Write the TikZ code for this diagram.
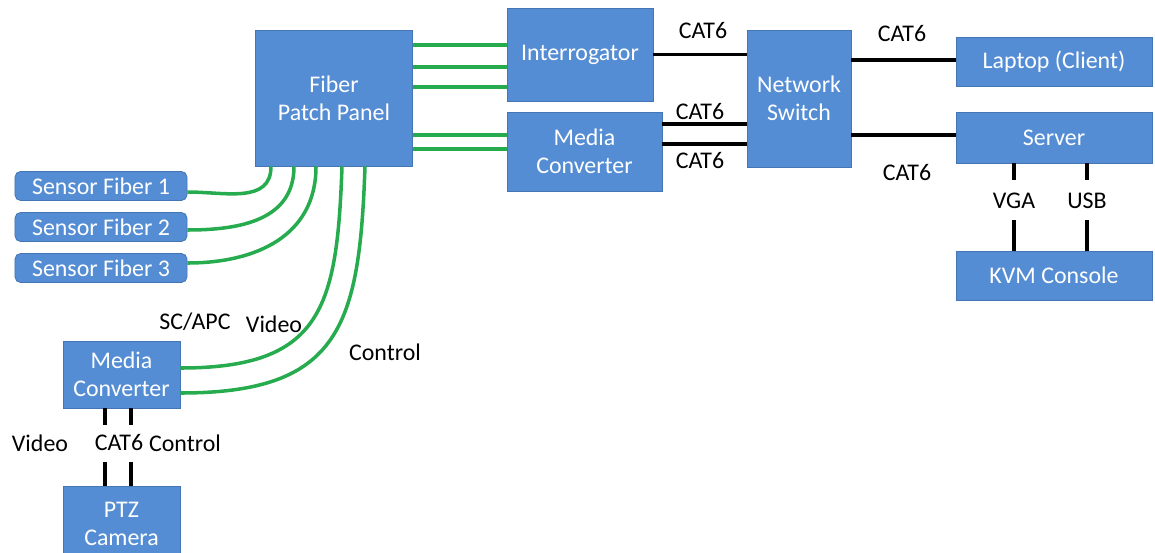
\documentclass[tikz,border=0pt]{standalone}
\usepackage{fontspec}
\setmainfont{Carlito}
\definecolor{boxblue}{RGB}{84,141,212}
\definecolor{boxedge}{RGB}{68,118,180}
\definecolor{fibergreen}{RGB}{38,172,78}

\begin{document}
\begin{tikzpicture}[x=0.025cm,y=-0.025cm,
  font=\fontsize{17}{20}\selectfont,
  box/.style={draw=boxedge,fill=boxblue,text=white,align=center,line width=0.6pt,inner sep=2pt},
  sensor/.style={box,rounded corners=4pt,minimum width=4.3cm,minimum height=0.725cm},
  fiber/.style={fibergreen,line width=2.5pt},
  cat/.style={black,line width=2.2pt},
  lbl/.style={text=black,inner sep=1pt}]
\useasboundingbox (0,0) rectangle (1155,552);
% boxes
\node[box,minimum width=3.925cm,minimum height=3.4cm] (fpp) at (334,98) {Fiber\\Patch Panel};
\node[sensor] (sf1) at (101,186) {Sensor Fiber 1};
\node[sensor] (sf2) at (101,227) {Sensor Fiber 2};
\node[sensor] (sf3) at (101,268) {Sensor Fiber 3};
\node[box,minimum width=3.65cm,minimum height=2.325cm] (intg) at (580,54.5) {Interrogator};
\node[box,minimum width=3.875cm,minimum height=1.975cm] (mc1) at (584.5,151.5) {Media\\Converter};
\node[box,minimum width=2.6cm,minimum height=3.425cm] (sw) at (799,98.5) {Network\\Switch};
\node[box,minimum width=4.9cm,minimum height=1.225cm] (lap) at (1054,61.5) {Laptop (Client)};
\node[box,minimum width=4.9cm,minimum height=1.275cm] (srv) at (1054,137.5) {Server};
\node[box,minimum width=4.9cm,minimum height=1.225cm] (kvm) at (1054,275.5) {KVM Console};
\node[box,minimum width=2.925cm,minimum height=1.675cm] (mc2) at (121.5,374.5) {Media\\Converter};
\node[box,minimum width=2.925cm,minimum height=1.9cm] (ptz) at (121.5,524) {PTZ\\Camera};
% labels
\node[lbl] (c1) at (703,31) {CAT6};
\node[lbl] (c2) at (700,112) {CAT6};
\node[lbl] (c3) at (700,161) {CAT6};
\node[lbl] (c4) at (902,34) {CAT6};
\node[lbl] (c5) at (907,173) {CAT6};
\node[lbl] (vga) at (1014,201) {VGA};
\node[lbl] (usb) at (1087,201) {USB};
\node[lbl] (scapc) at (195,322) {SC/APC};
\node[lbl] (vid1) at (274,324) {Video};
\node[lbl] (ctl1) at (385,352) {Control};
\node[lbl] (vid2) at (40,443) {Video};
\node[lbl] (c6) at (119,443) {CAT6};
\node[lbl] (ctl2) at (185,443) {Control};
% fiber
\foreach \y in {45,67,87}
\draw[fiber] (fpp.east |- 0,\y) -- (intg.west |- 0,\y);
\foreach \y in {135,149}
\draw[fiber] (fpp.east |- 0,\y) -- (mc1.west |- 0,\y);
\foreach \i/\x/\y in {1/271/192,2/294/230,3/316/263}
\draw[fiber] (fpp.south -| \x,0) to[out=-90,in=0,looseness=1.1] (sf\i.east |- 0,\y);
\draw[fiber] (fpp.south -| 342,0) to[out=-92,in=0,looseness=1.4] (mc2.east |- 0,368);
\draw[fiber] (fpp.south -| 365,0) to[out=-92,in=0,looseness=1.4] (mc2.east |- 0,393);
% cat6
\draw[cat] (intg.east) -- (sw.west |- intg.east);
\foreach \y in {124,144}
\draw[cat] (mc1.east |- 0,\y) -- (sw.west |- 0,\y);
\draw[cat] (sw.east |- 0,60) -- (lap.west |- 0,60);
\draw[cat] (sw.east |- 0,135) -- (srv.west |- 0,135);
\foreach \n in {vga,usb} {
\draw[cat] (srv.south -| \n) -- (\n |- 0,180);
\draw[cat] (\n |- 0,220) -- (kvm.north -| \n);
}
\foreach \x in {105,131} {
\draw[cat] (mc2.south -| \x,0) -- (\x,425);
\draw[cat] (\x,462) -- (ptz.north -| \x,0);
}
\end{tikzpicture}
\end{document}
